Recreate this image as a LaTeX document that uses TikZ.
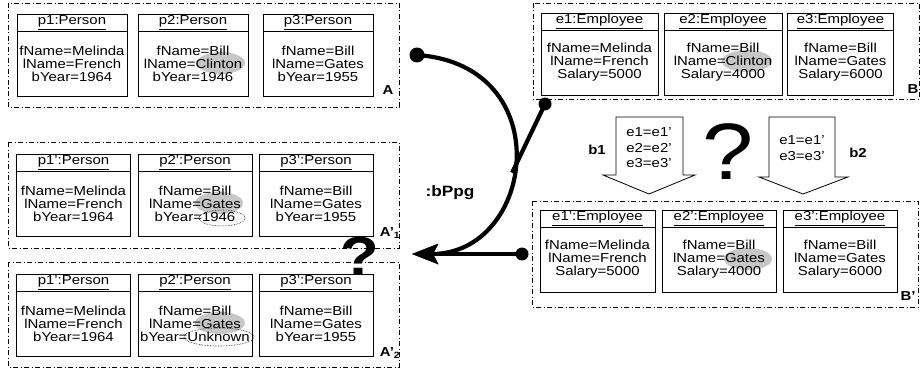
\documentclass[tikz,border=0pt]{standalone}
\usepackage{fontspec}
\setmainfont{Liberation Sans}[FakeStretch=1.15]
\usetikzlibrary{positioning,arrows.meta}
\tikzset{
	objtitle/.style={draw, line width=0.8pt, outer sep=0pt, inner sep=0pt, minimum width=#1, minimum height=17pt, font=\fontsize{13}{13}\selectfont}, % header of an object
	objtitle/.default=110pt,
	objbody/.style={draw, line width=0.8pt, outer sep=0pt, inner sep=0pt, minimum width=#1, minimum height=65pt, align=center, font=\fontsize{13}{13}\selectfont}, % attribute part
	objbody/.default=110pt,
	group/.style={draw, line width=0.7pt, dash pattern=on 5pt off 2.5pt on 1pt off 2.5pt}, % dash-dot frame round a model
	grplabel/.style={inner sep=0pt, font=\bfseries\fontsize{13}{13}\selectfont},
	dot/.style={circle, fill, inner sep=0pt, minimum size=#1},
	dot/.default=14pt,
	conn/.style={line width=4.2pt},
	hl/.style={fill=black!22}, % grey mark on a changed value
	ring/.style={draw, densely dotted, line width=0.6pt},
	blockarrow/.style={draw, line width=0.8pt, line join=miter},
}

\begin{document}
\begin{tikzpicture}[x=1pt,y=-1pt]
	\useasboundingbox (0,0) rectangle (921,369);

	% marks behind the changed values
	\fill[hl] (221,63) ellipse [x radius=24pt, y radius=11pt];
	\fill[hl] (747,61) ellipse [x radius=25pt, y radius=11pt];
	\fill[hl] (219,203) ellipse [x radius=24pt, y radius=11pt];
	\fill[hl] (220,323) ellipse [x radius=25pt, y radius=11pt];
	\fill[hl] (748,259) ellipse [x radius=24pt, y radius=11pt];
	\draw[ring] (222,218) ellipse [x radius=23pt, y radius=8pt];
	\draw[ring] (219,337) ellipse [x radius=35pt, y radius=9pt];

	% model A
	\draw[group] (8,3) rectangle (399,107);
	\node[objtitle] (p1) at (72,22.5) {\underline{p1:Person}};
	\node[objbody, below=0pt of p1] (p1b) {fName=Melinda\\lName=French\\bYear=1964};
	\node[objtitle] (p2) at (193,22.5) {\underline{p2:Person}};
	\node[objbody, below=0pt of p2] (p2b) {fName=Bill\\lName=Clinton\\bYear=1946};
	\node[objtitle] (p3) at (318,22.5) {\underline{p3:Person}};
	\node[objbody, below=0pt of p3] (p3b) {fName=Bill\\lName=Gates\\bYear=1955};
	\node[grplabel] (lA) at (388,90) {A};

	% model A'1
	\draw[group] (8,142) rectangle (399,248);
	\node[objtitle=114pt] (q1) at (73.5,162.5) {\underline{p1':Person}};
	\node[objbody=114pt, below=0pt of q1] (q1b) {fName=Melinda\\lName=French\\bYear=1964};
	\node[objtitle=114pt] (q2) at (195,162.5) {\underline{p2':Person}};
	\node[objbody=114pt, below=0pt of q2] (q2b) {fName=Bill\\lName=Gates\\bYear=1946};
	\node[objtitle=114pt] (q3) at (316,162.5) {\underline{p3':Person}};
	\node[objbody=114pt, below=0pt of q3] (q3b) {fName=Bill\\lName=Gates\\bYear=1955};
	\node[grplabel] (lA1) at (390,233) {A'\textsubscript{1}};

	% model A'2
	\draw[group] (8,262) rectangle (399,367);
	\node[objtitle=114pt] (r1) at (73.5,282.5) {\underline{p1':Person}};
	\node[objbody=114pt, below=0pt of r1] (r1b) {fName=Melinda\\lName=French\\bYear=1964};
	\node[objtitle=114pt] (r2) at (195,282.5) {\underline{p2':Person}};
	\node[objbody=114pt, below=0pt of r2] (r2b) {fName=Bill\\lName=Gates\\bYear=Unknown};
	\node[objtitle=114pt] (r3) at (316,282.5) {\underline{p3':Person}};
	\node[objbody=114pt, below=0pt of r3] (r3b) {fName=Bill\\lName=Gates\\bYear=1955};
	\node[grplabel] (lA2) at (390,353) {A'\textsubscript{2}};

	% model B
	\draw[group] (533,3) rectangle (919,99);
	\node[objtitle=117pt] (e1) at (599.5,21.5) {\underline{e1:Employee}};
	\node[objbody=117pt, below=0pt of e1] (e1b) {fName=Melinda\\lName=French\\Salary=5000};
	\node[objtitle=118pt] (e2) at (723,21.5) {\underline{e2:Employee}};
	\node[objbody=118pt, below=0pt of e2] (e2b) {fName=Bill\\lName=Clinton\\Salary=4000};
	\node[objtitle=106pt] (e3) at (840.5,21.5) {\underline{e3:Employee}};
	\node[objbody=106pt, below=0pt of e3] (e3b) {fName=Bill\\lName=Gates\\Salary=6000};
	\node[grplabel] (lB) at (913,89) {B};

	% model B'
	\draw[group] (532,201) rectangle (918,307);
	\node[objtitle=115pt] (f1) at (597.5,218.5) {\underline{e1':Employee}};
	\node[objbody=115pt, below=0pt of f1] (f1b) {fName=Melinda\\lName=French\\Salary=5000};
	\node[objtitle=114pt] (f2) at (719,218.5) {\underline{e2':Employee}};
	\node[objbody=114pt, below=0pt of f2] (f2b) {fName=Bill\\lName=Gates\\Salary=4000};
	\node[objtitle=114pt] (f3) at (840,218.5) {\underline{e3':Employee}};
	\node[objbody=114pt, below=0pt of f3] (f3b) {fName=Bill\\lName=Gates\\Salary=6000};
	\node[grplabel] (lBp) at (908,296) {B'};

	% the two updates b1 and b2
	\draw[blockarrow] (616,117) -- (683,117) -- (683,175) -- (695,175) -- (649,194) -- (603,175) -- (616,175) -- cycle;
	\node[align=center, font=\fontsize{13}{15.5}\selectfont] (m1) at (649,148) {e1=e1'\\e2=e2'\\e3=e3'};
	\node[grplabel] (b1) at (597,150) {b1};
	\draw[blockarrow] (769,117) -- (835,117) -- (835,177) -- (848,177) -- (803,194) -- (759,177) -- (769,177) -- cycle;
	\node[align=center, font=\fontsize{13}{15.5}\selectfont] (m2) at (802,148) {e1=e1'\\e3=e3'};
	\node[grplabel] (b2) at (858,153) {b2};
	\node[font=\fontsize{80}{80}\selectfont, inner sep=0pt] (qB) at (728,152) {?};

	% backward propagation
	\node[dot=15pt] (dA) at (417,55) {};
	\node[dot=13pt] (dB) at (545,104) {};
	\node[dot=13pt] (dBp) at (522,254) {};
	\coordinate (tip) at (412,254);
	\draw[conn, -{Stealth[length=26pt,width=20pt,inset=5pt]}] (dA.center) .. controls (560,65) and (535,254) .. coordinate[pos=0.55] (mg) (tip);
	\draw[conn] (dB.center) -- (mg);
	\draw[conn, -{Stealth[length=26pt,width=20pt,inset=5pt]}] (dBp.center) -- (tip);
	\node[font=\bfseries\fontsize{15}{15}\selectfont] (bppg) at (450,193) {:bPpg};
	\node[font=\bfseries\fontsize{55}{55}\selectfont, inner sep=0pt] (qA) at (360,256) {?};
\end{tikzpicture}
\end{document}
